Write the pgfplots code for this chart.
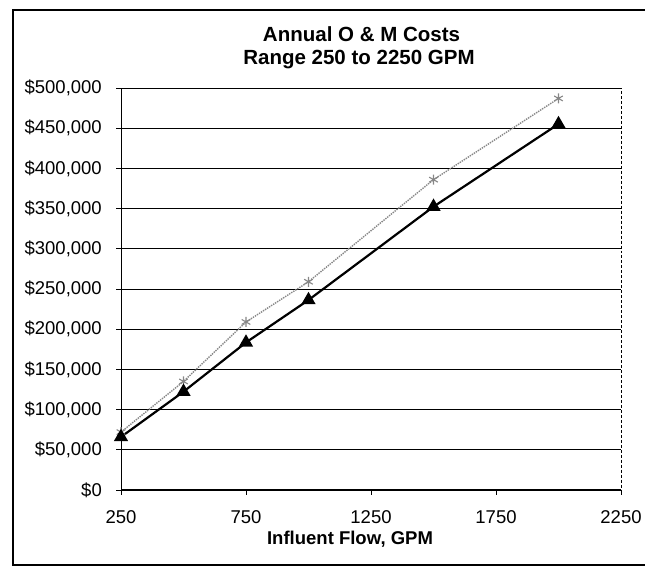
\documentclass[border=0pt]{standalone}
\usepackage{fontspec}
\setmainfont{Liberation Sans}
\usepackage{pgfplots}
\pgfplotsset{compat=1.18}
\definecolor{grayline}{RGB}{135,135,135}
\begin{document}
\begin{tikzpicture}[x=1bp,y=1bp]
\path[use as bounding box] (0,0) rectangle (645,566);
% outer chart border
\draw[black, line width=1.2bp] (646,556) -- (13,556) -- (13,1) -- (646,1);
\begin{axis}[
  at={(121bp,76bp)}, anchor=south west,
  scale only axis, width=500bp, height=402bp,
  xmin=250, xmax=2250, ymin=0, ymax=500000,
  scaled y ticks=false, scaled x ticks=false,
  axis lines=left,
  axis line style={-, black, line width=1bp},
  xtick={250,750,1250,1750,2250},
  xticklabels={250,750,1250,1750,2250},
  ytick={0,50000,100000,150000,200000,250000,300000,350000,400000,450000,500000},
  yticklabels={{\$0},{\$50,000},{\$100,000},{\$150,000},{\$200,000},{\$250,000},{\$300,000},{\$350,000},{\$400,000},{\$450,000},{\$500,000}},
  tick align=outside,
  major tick length=5bp,
  tick style={black, line width=0.8bp},
  ymajorgrids,
  major grid style={black, line width=0.9bp},
  ticklabel style={font=\fontsize{18.5bp}{22bp}\selectfont},
  yticklabel style={anchor=east, inner sep=0pt, xshift=-14bp},
  xticklabel style={anchor=base, inner sep=0pt, yshift=-29bp},
  clip=false,
]
\draw[black, densely dashed, line width=0.9bp] (rel axis cs:0,1) -- (rel axis cs:1,1) -- (rel axis cs:1,0);
\addplot[grayline, densely dotted, line width=1.4bp, mark=asterisk, mark size=5bp, mark options={solid, grayline, line width=1.1bp}]
  coordinates {(250,72000) (500,135000) (750,209000) (1000,259000) (1500,386000) (2000,487000)};
\addplot[black, line width=2.2bp, mark=triangle*, mark size=6bp, mark options={solid, black}]
  coordinates {(250,66000) (500,122300) (750,183500) (1000,236300) (1500,352400) (2000,455200)};
\end{axis}
\node[font=\bfseries\fontsize{20.5bp}{24bp}\selectfont, anchor=base] at (361.5,524.3) {Annual O \& M Costs};
\node[font=\bfseries\fontsize{20.5bp}{24bp}\selectfont, anchor=base] at (359,501) {Range 250 to 2250 GPM};
\node[font=\bfseries\fontsize{18.5bp}{22bp}\selectfont, anchor=base] at (350,21) {Influent Flow, GPM};
\end{tikzpicture}
\end{document}
